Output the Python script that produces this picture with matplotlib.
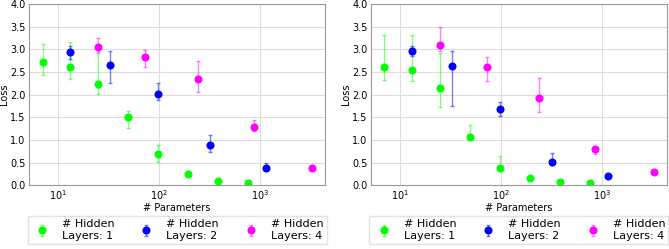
import numpy as np
import matplotlib
matplotlib.use('Agg')
import matplotlib.pyplot as plt

# parameter counts per model (1, 2 and 4 hidden layers)
params_1 = [7, 13, 25, 49, 97, 193, 385, 769]
params_2 = [13, 33, 97, 321, 1153]
params_4 = [25, 73, 241, 865, 3265]

# left panel: mean loss, lower and upper bound of the error bar
left_1 = [2.71, 2.60, 2.24, 1.51, 0.70, 0.25, 0.10, 0.04]
left_1_lo = [2.43, 2.34, 2.01, 1.26, 0.52, 0.25, 0.10, 0.04]
left_1_hi = [3.11, 3.17, 2.91, 1.63, 0.88, 0.25, 0.10, 0.04]
left_2 = [2.94, 2.65, 2.01, 0.88, 0.37]
left_2_lo = [2.78, 2.26, 1.88, 0.74, 0.33]
left_2_hi = [3.07, 2.96, 2.26, 1.10, 0.49]
left_4 = [3.06, 2.82, 2.35, 1.29, 0.375]
left_4_lo = [2.95, 2.62, 2.06, 1.19, 0.375]
left_4_hi = [3.24, 2.98, 2.74, 1.43, 0.375]

# right panel
right_1 = [2.62, 2.55, 2.15, 1.07, 0.39, 0.16, 0.07, 0.04]
right_1_lo = [2.32, 2.29, 1.72, 1.00, 0.32, 0.16, 0.07, 0.04]
right_1_hi = [3.31, 3.32, 2.91, 1.32, 0.65, 0.16, 0.07, 0.04]
right_2 = [2.96, 2.64, 1.69, 0.51, 0.21]
right_2_lo = [2.85, 1.74, 1.52, 0.45, 0.21]
right_2_hi = [3.08, 2.96, 1.83, 0.71, 0.21]
right_4 = [3.10, 2.61, 1.93, 0.80, 0.29]
right_4_lo = [2.96, 2.31, 1.61, 0.69, 0.29]
right_4_hi = [3.49, 2.82, 2.36, 0.85, 0.29]

labels = ['# Hidden\nLayers: 1', '# Hidden\nLayers: 2', '# Hidden\nLayers: 4']
colors = ['#00ff00', '#0000ff', '#ff00ff']
light = [(0.0, 1.0, 0.0, 0.5), (0.0, 0.0, 1.0, 0.5), (1.0, 0.0, 1.0, 0.5)]

panels = [
    [(params_1, left_1, left_1_lo, left_1_hi),
     (params_2, left_2, left_2_lo, left_2_hi),
     (params_4, left_4, left_4_lo, left_4_hi)],
    [(params_1, right_1, right_1_lo, right_1_hi),
     (params_2, right_2, right_2_lo, right_2_hi),
     (params_4, right_4, right_4_lo, right_4_hi)],
]

fig = plt.figure(figsize=(6.69, 2.49), dpi=100)
axes = [fig.add_axes([0.0435, 0.256, 0.4425, 0.728]),
        fig.add_axes([0.5545, 0.256, 0.4425, 0.728])]

for ax, series in zip(axes, panels):
    for (x, y, lo, hi), c, lc, lab in zip(series, colors, light, labels):
        y = np.array(y)
        err = [y - np.array(lo), np.array(hi) - y]
        ax.errorbar(x, y, yerr=err, fmt='o', color=c, ecolor=lc, elinewidth=1,
                    capsize=1.5, capthick=1, markersize=4.8, label=lab)
    ax.set_xscale('log')
    ax.set_ylim(0, 4)
    ax.set_yticks(np.arange(0, 4.01, 0.5))
    ax.grid(True, which='major', color='#dddddd', linewidth=0.8)
    ax.set_axisbelow(True)
    for s in ax.spines.values():
        s.set_color('#999999')
    ax.tick_params(which='both', length=0, labelsize=7, pad=2.5)
    ax.tick_params(axis='x', pad=2)
    ax.set_xlabel('# Parameters', fontsize=7, labelpad=1)
    ax.set_ylabel('Loss', fontsize=7, labelpad=0.5)
    ax.legend(loc='upper left', bbox_to_anchor=(-0.005, -0.17, 1.01, 0), mode='expand',
              ncol=3, fontsize=8, borderaxespad=0, frameon=True, fancybox=False,
              edgecolor='#dddddd', handletextpad=0.8, borderpad=0.3, labelspacing=0.2)

fig.savefig('out.png', dpi=100)
